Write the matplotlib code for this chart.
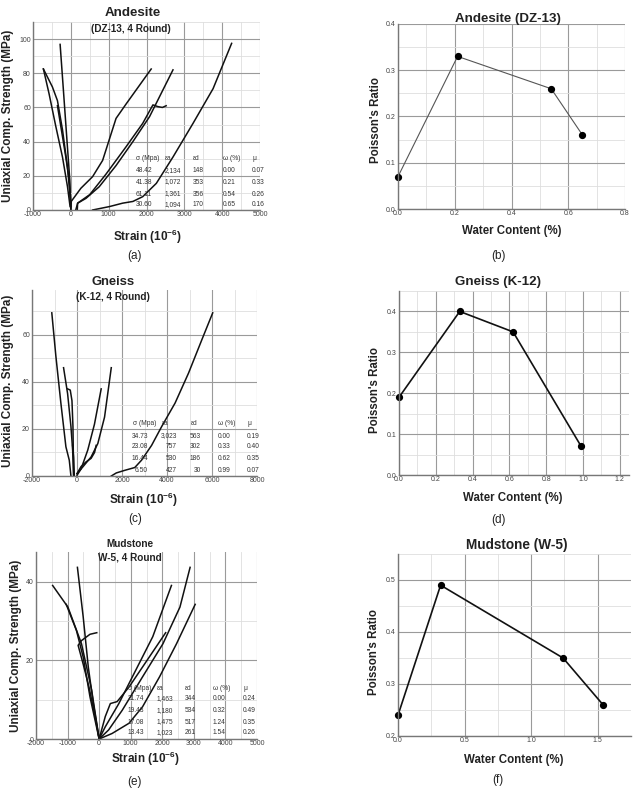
import matplotlib
matplotlib.use('Agg')
import matplotlib.pyplot as plt
from matplotlib.ticker import MultipleLocator

plt.rcParams['font.family'] = ['Liberation Sans', 'DejaVu Sans']
plt.rcParams['mathtext.fontset'] = 'custom'
plt.rcParams['mathtext.rm'] = 'Liberation Sans:bold'
plt.rcParams['mathtext.it'] = 'Liberation Sans:bold'
plt.rcParams['mathtext.bf'] = 'Liberation Sans:bold'
plt.rcParams['axes.unicode_minus'] = False

# ---------------- data ----------------
# Andesite (DZ-13) stress-strain curves (strain 1e-6, stress MPa)
and_ax1_s = [0, 10, 265, 575, 840, 1195, 1460, 2124]
and_ax1_p = [0, 5, 12.7, 19.5, 29, 53.6, 62, 82.5]
and_ax2_s = [130, 180, 400, 750, 1195, 1640, 2080, 2700]
and_ax2_p = [0, 4, 6.8, 13.6, 26, 40, 54.6, 82]
and_ax3_s = [170, 180, 500, 930, 1460, 1900, 2170, 2300, 2420, 2520]
and_ax3_p = [0, 4, 9, 21, 37, 50.7, 61.5, 60.5, 60, 61]
and_ax4_s = [575, 1020, 1370, 1640, 1900, 2260, 2700, 3230, 3760, 4250]
and_ax4_p = [0, 2, 4, 5, 7.8, 15.6, 31, 50.7, 71, 97.5]
and_lat1_s = [-283, -196, -100, -27, 0]
and_lat1_p = [96.9, 70, 40, 17.5, 0]
and_lat2_s = [-725, -487, -354, -221, -88, -27, 0]
and_lat2_p = [82.5, 72, 64, 47, 25, 10, 2]
and_lat3_s = [-725, -575, -398, -221, -88, -20]
and_lat3_p = [82.5, 68, 49, 31, 13.6, 2]
and_lat4_s = [-354, -265, -133, -44, 0]
and_lat4_p = [61, 49, 31, 17.5, 4]

# Gneiss (K-12)
gn_ax1_s = [1523, 1747, 2120, 2568, 2867, 3315, 3763, 4360, 4957, 5554, 6032]
gn_ax1_p = [0, 1.3, 2.4, 3.6, 6.7, 13, 21, 31, 43.7, 58, 69.3]
gn_ax2_s = [0, 254, 627, 926, 1224, 1523]
gn_ax2_p = [1, 3.8, 8.1, 13.8, 25, 46]
gn_ax3_s = [0, 180, 478, 776, 1075]
gn_ax3_p = [0.3, 3, 11, 22, 37]
gn_ax4_s = [0, 180, 403, 627, 780, 851]
gn_ax4_p = [1, 4, 6, 7.5, 10, 13]
gn_lat1_s = [-1120, -940, -717, -493, -343, -269]
gn_lat1_p = [69.3, 51, 31, 12.4, 6.7, 0]
gn_lat2_s = [-597, -418, -269, -194, -149]
gn_lat2_p = [46, 35, 21, 11, 0]
gn_lat3_s = [-418, -300, -224, -180, -150]
gn_lat3_p = [37, 36.5, 32, 21, 0]
gn_lat4_s = [-194, -150, -120]
gn_lat4_p = [13, 8, 0]

# Mudstone (W-5)
mud_ax1_s = [0, 194, 624, 1161, 1699, 2290]
mud_ax1_p = [0, 3.1, 9, 17.5, 26, 39]
mud_ax2_s = [0, 300, 731, 1376, 2021, 2559, 2881]
mud_ax2_p = [0, 2.3, 7.3, 15.8, 24.2, 33.5, 43.6]
mud_ax3_s = [0, 409, 946, 1376, 1914, 2451, 3042]
mud_ax3_p = [0, 1.4, 4, 8.2, 15.8, 24.2, 34.2]
mud_ax4_s = [0, 194, 355, 570, 946, 1376, 2107]
mud_ax4_p = [0, 5.7, 9, 9.5, 13.2, 18.3, 27]
mud_lat1_s = [-1473, -989, -559, -237, 0]
mud_lat1_p = [39, 33.5, 24.2, 12.4, 0]
mud_lat2_s = [-688, -505, -344, -183, 0]
mud_lat2_p = [43.6, 31, 18.3, 9, 0]
mud_lat3_s = [-1043, -720, -505, -290, 0]
mud_lat3_p = [34.2, 27.6, 20.8, 10.7, 0]
mud_lat4_s = [-75, -290, -559, -666, -505, -322, -129, 0]
mud_lat4_p = [27, 26.6, 25, 23.8, 19, 13.2, 5.7, 0]

# Poisson's ratio vs water content
and_w = [0.00, 0.21, 0.54, 0.65]
and_mu = [0.07, 0.33, 0.26, 0.16]
gn_w = [0.00, 0.33, 0.62, 0.99]
gn_mu = [0.19, 0.40, 0.35, 0.07]
mud_w = [0.00, 0.32, 1.24, 1.54]
mud_mu = [0.24, 0.49, 0.35, 0.26]

# tables
tab_header = ['σ (Mpa)', 'εa', 'εd', 'ω (%)', 'μ']
and_tab = [['48.42', '2,134', '148', '0.00', '0.07'],
           ['41.38', '1,072', '353', '0.21', '0.33'],
           ['61.11', '1,361', '356', '0.54', '0.26'],
           ['30.60', '1,094', '170', '0.65', '0.16']]
gn_tab = [['34.73', '3,023', '563', '0.00', '0.19'],
          ['23.08', '757', '302', '0.33', '0.40'],
          ['16.44', '530', '186', '0.62', '0.35'],
          ['6.50', '427', '30', '0.99', '0.07']]
mud_tab = [['21.74', '1,463', '344', '0.00', '0.24'],
           ['19.43', '1,180', '534', '0.32', '0.49'],
           ['17.08', '1,475', '517', '1.24', '0.35'],
           ['13.43', '1,023', '261', '1.54', '0.26']]

# ---------------- figure ----------------
W, H = 636, 794
fig = plt.figure(figsize=(W / 100, H / 100), dpi=100)


def fx(x):
    return x / W


def fy(y):
    return 1 - y / H


def make_axes(l, r, b, t):
    return fig.add_axes([fx(l), fy(b), fx(r) - fx(l), (b - t) / H])


def style(ax, xmaj, xmin, ymaj, ymin):
    ax.xaxis.set_major_locator(MultipleLocator(xmaj))
    ax.xaxis.set_minor_locator(MultipleLocator(xmin))
    ax.yaxis.set_major_locator(MultipleLocator(ymaj))
    ax.yaxis.set_minor_locator(MultipleLocator(ymin))
    ax.grid(True, which='major', color='#9a9a9a', lw=0.8)
    ax.grid(True, which='minor', color='#dedede', lw=0.6)
    ax.set_axisbelow(True)
    for sp in ['top', 'right']:
        ax.spines[sp].set_visible(False)
    for sp in ['left', 'bottom']:
        ax.spines[sp].set_color('#777777')
        ax.spines[sp].set_linewidth(1.0)
    ax.tick_params(which='both', length=0, labelsize=5, labelcolor='#444444')
    ax.tick_params(axis='x', pad=0.5)
    ax.tick_params(axis='y', pad=1.5)


def ftext(x, y, s, size, weight='bold', ha='center', va='center', rot=0, color='#222222'):
    fig.text(fx(x), fy(y), s, fontsize=size, fontweight=weight, ha=ha, va=va,
             rotation=rot, color=color)


def table(xs, has, ys, rows):
    for j, h in enumerate(tab_header):
        ftext(xs[j][0], ys[0], h, 4.8, weight='normal', ha='left', color='#333333')
    for i, row in enumerate(rows):
        for j, v in enumerate(row):
            ftext(xs[j][1], ys[i + 1], v, 4.8, weight='normal', ha=has[j], color='#333333')


LW = 1.1
# ---- (a) Andesite stress-strain
ax = make_axes(33, 260, 210, 22)
ax.set_xlim(-1000, 5000)
ax.set_ylim(0, 110)
style(ax, 1000, 500, 20, 10)
ax.set_yticks([0, 20, 40, 60, 80, 100])
for s, p in [(and_ax1_s, and_ax1_p), (and_ax2_s, and_ax2_p), (and_ax3_s, and_ax3_p),
             (and_ax4_s, and_ax4_p), (and_lat1_s, and_lat1_p), (and_lat2_s, and_lat2_p),
             (and_lat3_s, and_lat3_p), (and_lat4_s, and_lat4_p)]:
    ax.plot(s, p, color='#111111', lw=LW)
ftext(133, 13, 'Andesite', 9.6)
ftext(131, 29, '(DZ-13, 4 Round)', 7.2)
ftext(8, 116, 'Uniaxial Comp. Strength (MPa)', 8.5, rot=90)
ftext(147, 237, 'Strain (10$^{-6}$)', 8.5)
ftext(135, 256, '(a)', 8.5, weight='normal')
cols = [136, 165, 193, 223, 252]
table([(c, c) for c in cols], ['left'] * 5, [159, 171, 182, 194, 205], and_tab)

# ---- (b) Andesite Poisson
ax = make_axes(398, 625, 209, 24)
ax.set_xlim(0, 0.8)
ax.set_ylim(0, 0.4)
style(ax, 0.2, 0.1, 0.1, 0.05)
ax.plot(and_w, and_mu, color='#555555', lw=0.8, marker='o', ms=4.2,
        mfc='black', mec='black', clip_on=False)
ftext(508, 19, 'Andesite (DZ-13)', 9.6)
ftext(376, 120, "Poisson's Ratio", 8.3, rot=90)
ftext(512, 231, 'Water Content (%)', 8.3)
ftext(499, 256, '(b)', 8.5, weight='normal')

# ---- (c) Gneiss stress-strain
ax = make_axes(32, 257, 476, 290)
ax.set_xlim(-2000, 8000)
ax.set_ylim(0, 79)
style(ax, 2000, 1000, 20, 10)
ax.set_yticks([0, 20, 40, 60])
for s, p in [(gn_ax1_s, gn_ax1_p), (gn_ax2_s, gn_ax2_p), (gn_ax3_s, gn_ax3_p),
             (gn_ax4_s, gn_ax4_p), (gn_lat1_s, gn_lat1_p), (gn_lat2_s, gn_lat2_p),
             (gn_lat3_s, gn_lat3_p), (gn_lat4_s, gn_lat4_p)]:
    ax.plot(s, p, color='#111111', lw=LW)
ftext(113, 282, 'Gneiss', 9.4)
ftext(113, 297, '(K-12, 4 Round)', 7.2)
ftext(8, 381, 'Uniaxial Comp. Strength (MPa)', 8.5, rot=90)
ftext(143, 500, 'Strain (10$^{-6}$)', 8.5)
ftext(135, 519, '(c)', 8.5, weight='normal')
table([(133, 148), (162, 177), (191, 201), (218, 218), (247, 247)],
      ['right', 'right', 'right', 'left', 'left'], [424, 436, 447, 459, 470], gn_tab)

# ---- (d) Gneiss Poisson
ax = make_axes(399, 629, 475, 291)
ax.set_xlim(0, 1.25)
ax.set_ylim(0, 0.45)
style(ax, 0.2, 0.1, 0.1, 0.05)
ax.plot(gn_w, gn_mu, color='#111111', lw=1.2, marker='o', ms=4.2,
        mfc='black', mec='black', clip_on=False)
ftext(498, 282, 'Gneiss (K-12)', 9.6)
ftext(375, 390, "Poisson's Ratio", 8.3, rot=90)
ftext(513, 498, 'Water Content (%)', 8.3)
ftext(498, 520, '(d)', 8.5, weight='normal')

# ---- (e) Mudstone stress-strain
ax = make_axes(36, 257, 739, 552)
ax.set_xlim(-2000, 5000)
ax.set_ylim(0, 47.5)
style(ax, 1000, 500, 20, 10)
ax.set_yticks([0, 20, 40])
for s, p in [(mud_ax1_s, mud_ax1_p), (mud_ax2_s, mud_ax2_p), (mud_ax3_s, mud_ax3_p),
             (mud_ax4_s, mud_ax4_p), (mud_lat1_s, mud_lat1_p), (mud_lat2_s, mud_lat2_p),
             (mud_lat3_s, mud_lat3_p), (mud_lat4_s, mud_lat4_p)]:
    ax.plot(s, p, color='#111111', lw=LW)
ftext(130, 544, 'Mudstone', 7.2)
ftext(130, 558, 'W-5, 4 Round', 7.2)
ftext(16, 646, 'Uniaxial Comp. Strength (MPa)', 8.5, rot=90)
ftext(145, 759, 'Strain (10$^{-6}$)', 8.5)
ftext(135, 782, '(e)', 8.5, weight='normal')
cols = [128, 157, 185, 213, 243]
table([(c, c) for c in cols], ['left'] * 5, [688, 699, 711, 722, 733], mud_tab)

# ---- (f) Mudstone Poisson
ax = make_axes(398, 631, 736, 554)
ax.set_xlim(0, 1.75)
ax.set_ylim(0.2, 0.55)
style(ax, 0.5, 0.25, 0.1, 0.05)
ax.plot(mud_w, mud_mu, color='#111111', lw=1.2, marker='o', ms=4.2,
        mfc='black', mec='black', clip_on=False)
ftext(517, 545, 'Mudstone (W-5)', 9.8)
ftext(374, 652, "Poisson's Ratio", 8.3, rot=90)
ftext(514, 760, 'Water Content (%)', 8.3)
ftext(498, 780, '(f)', 8.5, weight='normal')

fig.savefig('out.png', dpi=100)
